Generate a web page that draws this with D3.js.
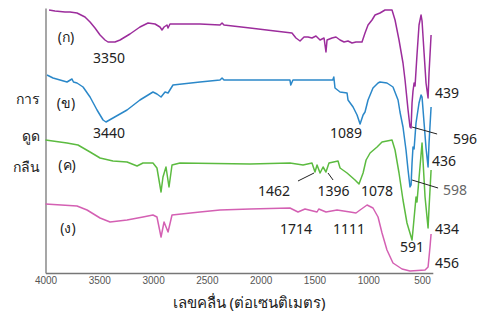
<!DOCTYPE html>
<html>
<head>
<meta charset="utf-8">
<script src="https://cdn.jsdelivr.net/npm/d3@7"></script>
<style>
  body { margin: 0; background: #fff; }
  svg { display: block; font-family: "Noto Sans", "DejaVu Sans", sans-serif; }
  .tick text { font-family: "Liberation Sans", Arial, sans-serif; font-size: 10px; fill: #555; }
  .peak { font-size: 14px; fill: #222; }
</style>
</head>
<body>
<div id="chart"></div>
<script>
// wavenumber (cm-1) and relative signal (arbitrary units)
const spectrumA = [
  [3967, 263], [3912, 262], [3819, 261], [3772, 261], [3707, 260], [3633, 256], [3586, 251],
  [3540, 245], [3493, 238], [3447, 233], [3419, 231], [3354, 231], [3307, 233], [3215, 239],
  [3122, 246], [3047, 250], [2982, 249], [2936, 246], [2917, 243], [2898, 246], [2871, 248],
  [2861, 245], [2843, 249], [2796, 249], [2564, 249], [2378, 248], [2359, 250], [2341, 248],
  [2099, 245], [1867, 242], [1709, 240], [1672, 235], [1634, 232], [1597, 236], [1560, 236],
  [1523, 235], [1486, 237], [1448, 233], [1411, 235], [1393, 221], [1383, 233], [1337, 235],
  [1300, 236], [1262, 233], [1225, 231], [1188, 232], [1151, 230], [1114, 231], [1058, 231],
  [1030, 240], [1002, 248], [965, 253], [937, 258], [891, 260], [844, 263], [779, 263],
  [751, 253], [714, 233], [677, 210], [658, 193], [630, 163], [612, 146], [602, 145],
  [593, 170], [584, 182], [574, 190], [565, 187], [547, 218], [528, 248], [509, 258],
  [500, 252], [481, 220], [463, 190], [444, 175], [435, 200], [416, 238]
];
const spectrumB = [
  [3986, 198], [3930, 195], [3865, 193], [3800, 191], [3754, 194], [3740, 191], [3707, 190],
  [3651, 186], [3586, 176], [3521, 163], [3465, 153], [3438, 151], [3373, 155], [3242, 163],
  [3122, 173], [3001, 181], [2964, 179], [2926, 176], [2889, 181], [2861, 180], [2815, 188],
  [2564, 191], [2378, 193], [2359, 195], [2341, 193], [2099, 193], [1728, 193], [1720, 188],
  [1700, 193], [1330, 193], [1320, 196], [1309, 185], [1262, 181], [1197, 180], [1188, 173],
  [1141, 166], [1104, 158], [1076, 149], [1048, 158], [1030, 161], [1002, 173], [956, 185],
  [909, 190], [891, 191], [826, 190], [770, 186], [723, 173], [705, 161], [677, 146],
  [649, 123], [630, 103], [612, 86], [602, 88], [593, 110], [584, 126], [574, 124],
  [556, 150], [528, 170], [509, 178], [500, 176], [481, 150], [463, 125], [444, 106],
  [435, 130], [416, 166]
];
const spectrumC = [
  [4000, 133], [3800, 130], [3698, 128], [3586, 121], [3493, 115], [3373, 112], [3242, 111],
  [3149, 107], [3094, 110], [3001, 110], [2964, 105], [2926, 81], [2908, 96], [2880, 106],
  [2852, 86], [2824, 108], [2750, 110], [2099, 109], [1728, 110], [1606, 108], [1523, 110],
  [1495, 101], [1476, 108], [1448, 100], [1420, 106], [1393, 101], [1365, 110], [1281, 112],
  [1262, 105], [1197, 100], [1123, 93], [1086, 89], [1048, 100], [1020, 113], [983, 120],
  [918, 126], [872, 131], [779, 133], [751, 123], [714, 100], [677, 73], [640, 50],
  [593, 33], [584, 43], [556, 76], [547, 71], [500, 130], [472, 76], [444, 45],
  [435, 65], [416, 103]
];
const spectrumD = [
  [4000, 69], [3707, 67], [3614, 63], [3493, 55], [3400, 51], [3242, 53], [3094, 56],
  [3001, 58], [2964, 56], [2926, 36], [2898, 51], [2861, 41], [2824, 58], [2564, 61],
  [2378, 63], [2099, 64], [1728, 65], [1653, 61], [1588, 64], [1476, 61], [1460, 64],
  [1393, 61], [1290, 63], [1169, 61], [1114, 60], [1076, 63], [1011, 68], [956, 65],
  [909, 56], [872, 40], [826, 23], [770, 10], [686, 4], [612, 2], [472, 3], [444, 6],
  [426, 26], [416, 39]
];

const seriesNames = ['(ก)', '(ข)', '(ค)', '(ง)'];
const seriesColors = ['#9c2d9c', '#2b88c9', '#5cbb40', '#d460b3'];
const seriesLabelPos = [[3809, 236], [3809, 170], [3800, 108], [3791, 45]];

const xTicks = [4000, 3500, 3000, 2500, 2000, 1500, 1000, 500];
const yLabelLines = ['การ', 'ดูด', 'กลืน'];

// peak labels: text, wavenumber, level, colour
const peakLabels = [
  ['3350', 3410, 215, '#222'], ['3440', 3410, 140, '#222'], ['1089', 1207, 140, '#222'],
  ['439', 269, 180, '#222'], ['596', 101, 134, '#222'], ['436', 296, 112, '#222'],
  ['598', 193, 83, '#666'], ['1462', 1876, 82, '#222'], ['1396', 1323, 82, '#222'],
  ['1078', 918, 82, '#222'], ['1714', 1672, 44, '#222'], ['1111', 1179, 44, '#222'],
  ['591', 593, 26, '#222'], ['434', 269, 44, '#222'], ['456', 269, 10, '#222']
];
// leader lines: [w1, v1, w2, v2]
const leaders = [
  [593, 146, 360, 139], [593, 93, 351, 85], [1653, 92, 1504, 100], [1374, 100, 1327, 93]
];

const width = 485, height = 322;
const svg = d3.select('#chart').append('svg').attr('width', width).attr('height', height);

const x = d3.scaleLinear().domain([4000, 400]).range([45.5, 432.8]);
const y = d3.scaleLinear().domain([0, 265]).range([273, 8]);

const xAxis = svg.append('g')
  .attr('transform', `translate(0,${y(0)})`)
  .call(d3.axisBottom(x).tickValues(xTicks).tickFormat(d3.format('d')).tickSize(0).tickSizeOuter(0).tickPadding(4));
xAxis.select('.domain').attr('stroke', '#777').attr('stroke-width', 1.3);

const yAxis = svg.append('g')
  .attr('transform', `translate(${x(4000)},0)`)
  .call(d3.axisLeft(y).ticks(0).tickSizeOuter(0));
yAxis.select('.domain').attr('stroke', '#777').attr('stroke-width', 1.3);

const line = d3.line().x((d) => x(d[0])).y((d) => y(d[1])).curve(d3.curveLinear);

[spectrumA, spectrumB, spectrumC, spectrumD].forEach((data, i) => {
  svg.append('path')
    .datum(data)
    .attr('d', line)
    .attr('fill', 'none')
    .attr('stroke', seriesColors[i])
    .attr('stroke-width', 1.5)
    .attr('stroke-linejoin', 'round');

  svg.append('text')
    .attr('x', x(seriesLabelPos[i][0]))
    .attr('y', y(seriesLabelPos[i][1]))
    .attr('dy', '0.35em')
    .attr('text-anchor', 'middle')
    .attr('font-size', 14)
    .attr('fill', '#222')
    .text(seriesNames[i]);
});

svg.selectAll('.leader').data(leaders).join('line')
  .attr('class', 'leader')
  .attr('x1', (d) => x(d[0])).attr('y1', (d) => y(d[1]))
  .attr('x2', (d) => x(d[2])).attr('y2', (d) => y(d[3]))
  .attr('stroke', '#222').attr('stroke-width', 1);

svg.selectAll('.peak').data(peakLabels).join('text')
  .attr('class', 'peak')
  .attr('x', (d) => x(d[1]))
  .attr('y', (d) => y(d[2]))
  .attr('dy', '0.35em')
  .attr('text-anchor', 'middle')
  .style('fill', (d) => d[3])
  .text((d) => d[0]);

// y-axis title, stacked words
const yTitleY = [99, 136, 167];
svg.selectAll('.ytitle').data(yLabelLines).join('text')
  .attr('class', 'ytitle')
  .attr('x', 40)
  .attr('y', (d, i) => yTitleY[i])
  .attr('dy', '0.35em')
  .attr('text-anchor', 'end')
  .attr('font-size', 14)
  .attr('fill', '#222')
  .text((d) => d);

svg.append('text')
  .attr('x', 249)
  .attr('y', 303)
  .attr('dy', '0.35em')
  .attr('text-anchor', 'middle')
  .attr('font-size', 15)
  .attr('fill', '#222')
  .text('เลขคลื่น (ต่อเซนติเมตร)');
</script>
</body>
</html>
